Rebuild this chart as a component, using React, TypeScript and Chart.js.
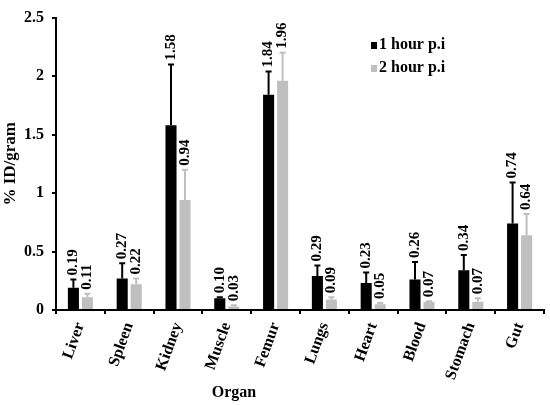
import React, { useEffect, useRef } from 'react';
import { Chart, registerables } from 'chart.js';

Chart.register(...registerables);

const organs = ['Liver', 'Spleen', 'Kidney', 'Muscle', 'Femur', 'Lungs', 'Heart', 'Blood', 'Stomach', 'Gut'];
const hour1 = [0.19, 0.27, 1.58, 0.1, 1.84, 0.29, 0.23, 0.26, 0.34, 0.74];
const hour2 = [0.11, 0.22, 0.94, 0.03, 1.96, 0.09, 0.05, 0.07, 0.07, 0.64];
const hour1Err = [0.07, 0.13, 0.52, 0.01, 0.2, 0.09, 0.09, 0.15, 0.13, 0.35];
const hour2Err = [0.03, 0.05, 0.26, 0.01, 0.24, 0.02, 0.01, 0.005, 0.03, 0.18];
const seriesNames = ['1 hour p.i', '2 hour p.i'];
const seriesColors = ['#000000', '#bfbfbf'];

const FONT = '"Liberation Serif", "Times New Roman", serif';

// upper error bar + rotated value label above it
const errorBarsPlugin = {
  id: 'errorBars',
  afterDatasetsDraw(chart: any) {
    const { ctx } = chart;
    const yScale = chart.scales.y;
    const errs = [hour1Err, hour2Err];
    chart.data.datasets.forEach((ds: any, di: number) => {
      const meta = chart.getDatasetMeta(di);
      meta.data.forEach((bar: any, i: number) => {
        const v = ds.data[i];
        const top = yScale.getPixelForValue(v + errs[di][i]);
        ctx.save();
        ctx.strokeStyle = seriesColors[di];
        ctx.lineWidth = 2;
        ctx.beginPath();
        ctx.moveTo(bar.x, bar.y);
        ctx.lineTo(bar.x, top);
        ctx.moveTo(bar.x - 3, top);
        ctx.lineTo(bar.x + 3, top);
        ctx.stroke();
        ctx.translate(bar.x, top - 4);
        ctx.rotate(-Math.PI / 2);
        ctx.font = `bold 15px ${FONT}`;
        ctx.fillStyle = '#000';
        ctx.textAlign = 'left';
        ctx.textBaseline = 'middle';
        ctx.fillText(v.toFixed(2), 0, 0);
        ctx.restore();
      });
    });
  },
};

// legend inside the plot and the x title (sits left of centre in the original)
const extrasPlugin = {
  id: 'extras',
  afterDraw(chart: any) {
    const { ctx } = chart;
    ctx.save();
    ctx.font = `bold 16px ${FONT}`;
    ctx.textBaseline = 'middle';
    ctx.textAlign = 'left';
    seriesNames.forEach((name, i) => {
      const y = 45 + i * 23;
      ctx.fillStyle = seriesColors[i];
      ctx.fillRect(371, y - 3, 6, 7);
      ctx.fillStyle = '#000';
      ctx.fillText(name, 379, y);
    });
    ctx.textAlign = 'center';
    ctx.fillText('Organ', 234, 393);
    ctx.restore();
  },
};

export default function App() {
  const canvasRef = useRef<HTMLCanvasElement>(null);
  const chartRef = useRef<Chart | null>(null);

  useEffect(() => {
    if (!canvasRef.current) return;
    const ctx = canvasRef.current.getContext('2d');
    if (!ctx) return;

    chartRef.current = new Chart(ctx, {
      type: 'bar',
      data: {
        labels: organs,
        datasets: [
          { label: seriesNames[0], data: hour1, backgroundColor: seriesColors[0] },
          { label: seriesNames[1], data: hour2, backgroundColor: seriesColors[1] },
        ],
      },
      options: {
        responsive: false,
        animation: false,
        devicePixelRatio: 1,
        layout: { padding: { top: 12, right: 6, left: 0, bottom: 0 } },
        datasets: { bar: { barPercentage: 0.79, categoryPercentage: 0.574 } },
        plugins: { legend: { display: false }, tooltip: { enabled: false } },
        scales: {
          x: {
            grid: { display: true, drawOnChartArea: false, color: '#000', lineWidth: 2, tickLength: 4 },
            border: { color: '#000', width: 2 },
            ticks: {
              color: '#000',
              font: { family: FONT, size: 16, weight: 'bold' },
              minRotation: 70,
              maxRotation: 70,
              padding: 6,
            },
            afterFit: (scale: any) => {
              scale.height = 95;
            },
          },
          y: {
            min: 0,
            max: 2.5,
            grid: { display: true, drawOnChartArea: false, color: '#000', lineWidth: 2, tickLength: 4 },
            border: { color: '#000', width: 2 },
            ticks: {
              stepSize: 0.5,
              color: '#000',
              padding: 8,
              font: { family: FONT, size: 16, weight: 'bold' },
              callback: (v: any) => String(v),
            },
            title: {
              display: true,
              text: '% ID/gram',
              color: '#000',
              font: { family: FONT, size: 17, weight: 'bold' },
              padding: { top: 0, bottom: 0 },
            },
            afterFit: (scale: any) => {
              scale.width = 56;
            },
          },
        },
      },
      plugins: [errorBarsPlugin, extrasPlugin],
    } as any);

    return () => {
      if (chartRef.current) {
        chartRef.current.destroy();
        chartRef.current = null;
      }
    };
  }, []);

  return (
    <div style={{ position: 'absolute', left: 0, top: 0, width: 550, height: 405, background: '#fff' }}>
      <canvas ref={canvasRef} width={550} height={405} />
    </div>
  );
}
